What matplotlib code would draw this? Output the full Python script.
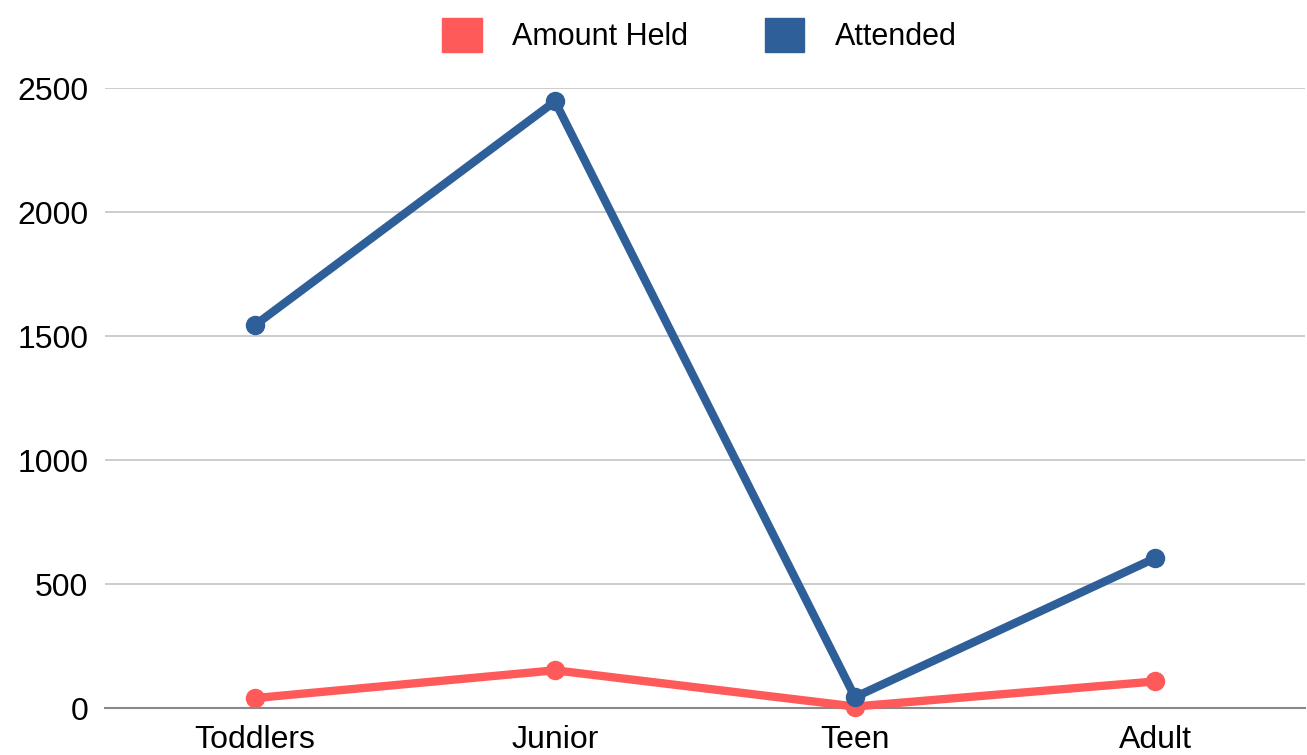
import matplotlib.pyplot as plt
import matplotlib.patches as patches

categories = ['Toddlers', 'Junior', 'Teen', 'Adult']
amount_held = [40, 152, 6, 107]
attended = [1544, 2446, 44, 604]

red = '#FF5A5A'
blue = '#2E5F99'

plt.rcParams['font.family'] = ['Liberation Sans', 'DejaVu Sans']

fig = plt.figure(figsize=(13.07, 7.55), dpi=100)
ax = fig.add_axes([105/1307, 1 - 708/755, 1200/1307, 620/755])

x = range(len(categories))
ax.plot(x, amount_held, color=red, linewidth=6, marker='o', markersize=13, zorder=3)
ax.plot(x, attended, color=blue, linewidth=6, marker='o', markersize=13, zorder=4)

ax.set_xlim(-0.5, 3.5)
ax.set_ylim(0, 2500)
ax.set_yticks([0, 500, 1000, 1500, 2000, 2500])
ax.set_xticks(list(x))
ax.set_xticklabels(categories)
ax.tick_params(length=0, labelsize=23, pad=12)
ax.tick_params(axis='x', pad=12)
ax.yaxis.grid(True, color='#c8c8c8', linewidth=1.3)
ax.set_axisbelow(True)
for s in ['top', 'right', 'left']:
    ax.spines[s].set_visible(False)
ax.spines['bottom'].set_color('#888888')
ax.spines['bottom'].set_linewidth(1.5)
ax.spines['bottom'].set_zorder(2)
for line in ax.lines:
    line.set_clip_on(False)

handles = [patches.Patch(color=red, label='Amount Held'),
           patches.Patch(color=blue, label='Attended')]
fig.legend(handles=handles, loc='upper center', bbox_to_anchor=(0.535, 1.012), ncol=2,
           frameon=False, fontsize=22, handlelength=1.3, handleheight=1.3,
           columnspacing=2.5, handletextpad=1.0)

fig.savefig('out.png', dpi=100)
